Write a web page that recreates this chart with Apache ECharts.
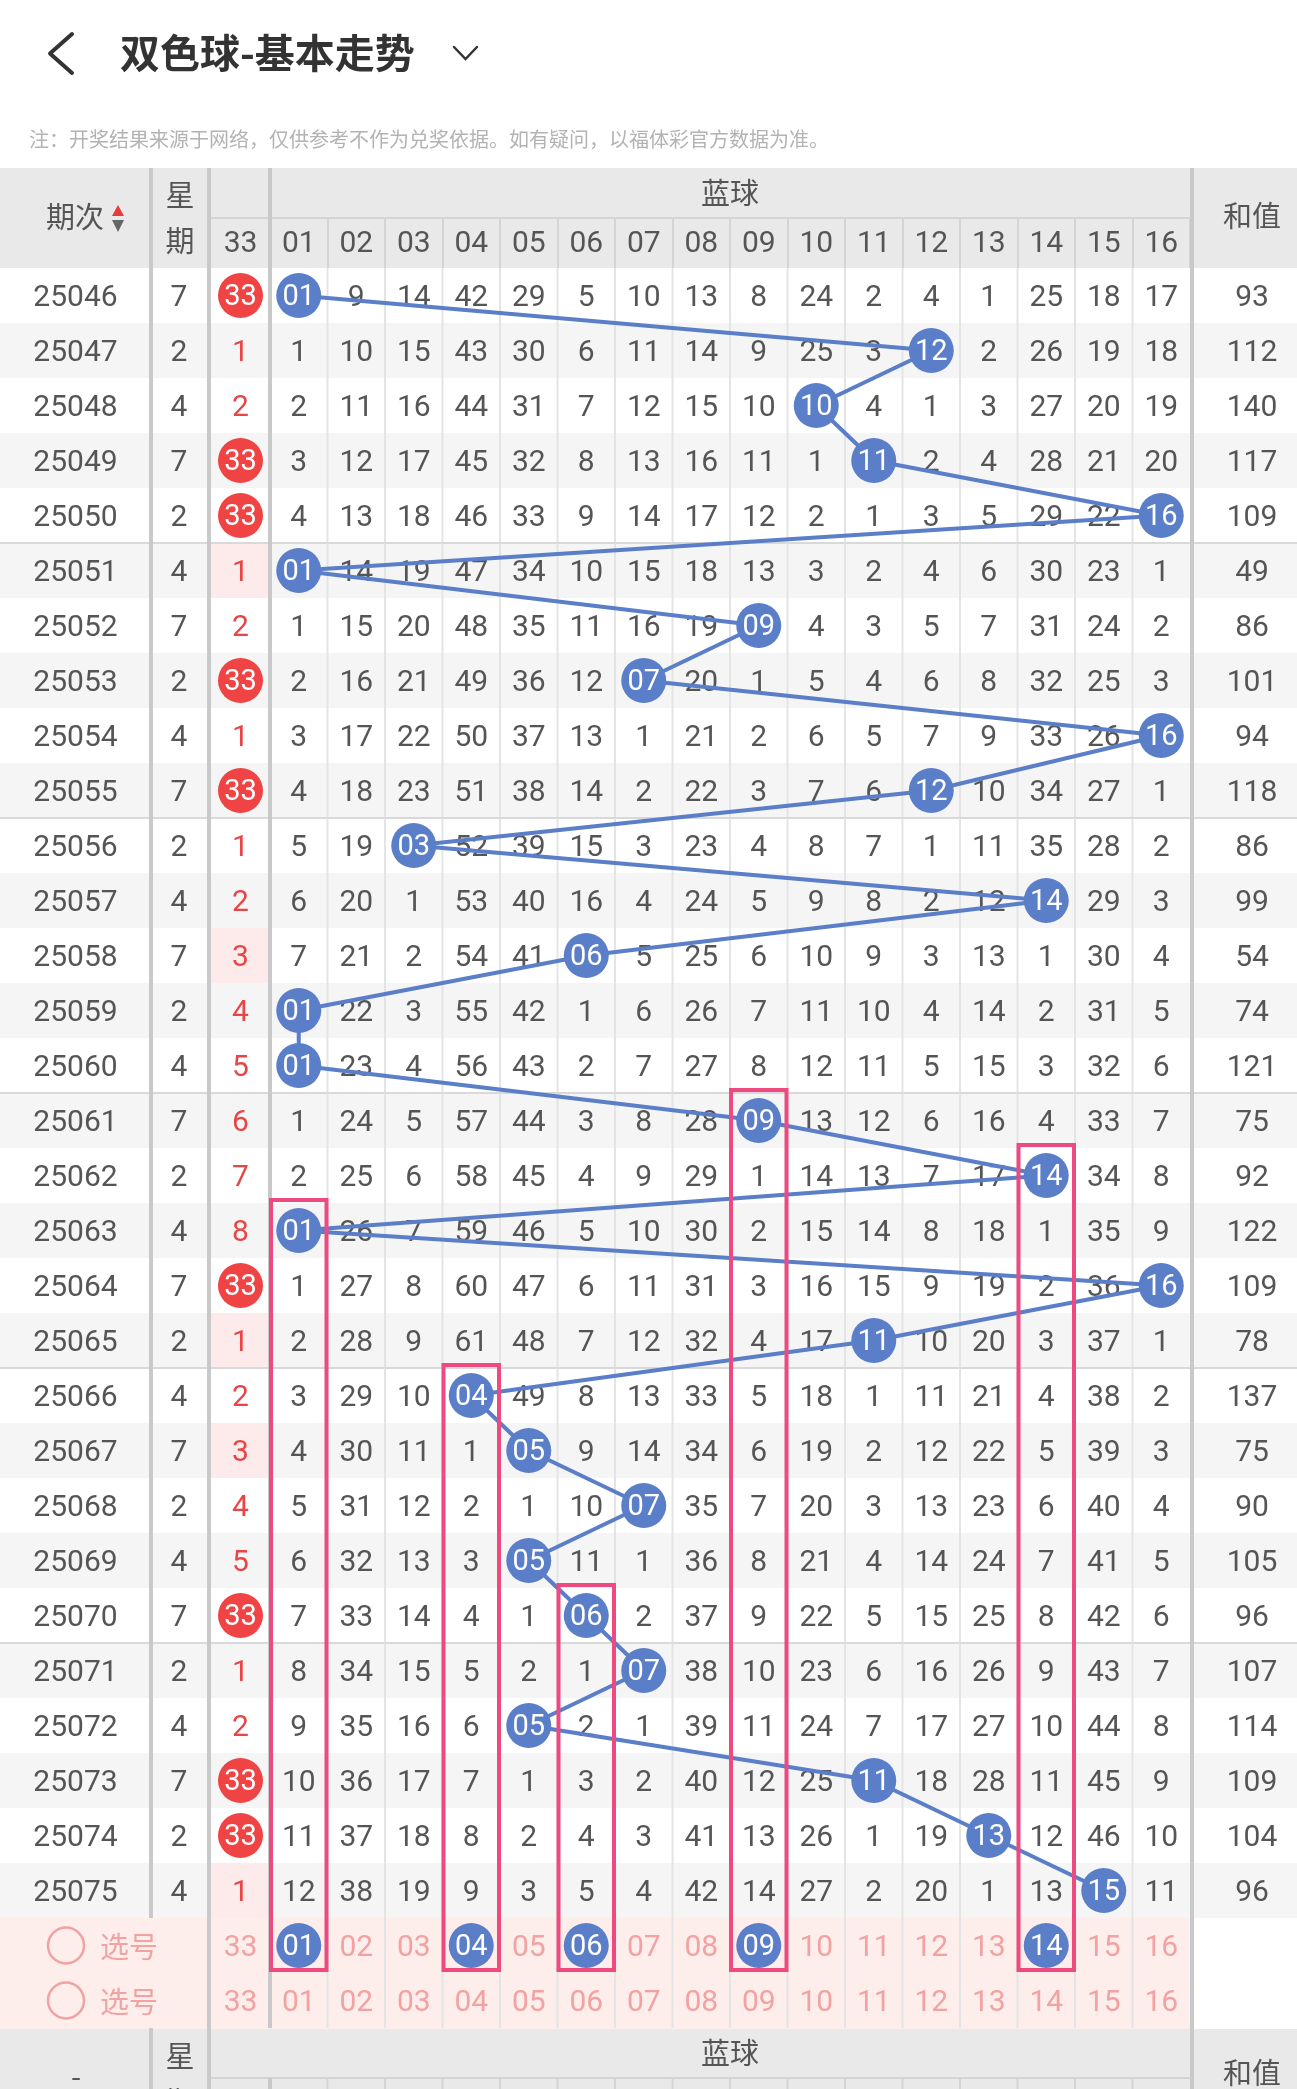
<!DOCTYPE html>
<html>
<head>
<meta charset="utf-8">
<script src="https://cdn.jsdelivr.net/npm/echarts@6/dist/echarts.min.js"></script>
<style>html,body{margin:0;padding:0;background:#fff}#c{width:1297px;height:2089px}</style>
</head>
<body>
<div id="c"></div>
<script>
// ===== DATA =====
const periods = ['25046','25047','25048','25049','25050','25051','25052','25053','25054','25055',
  '25056','25057','25058','25059','25060','25061','25062','25063','25064','25065',
  '25066','25067','25068','25069','25070','25071','25072','25073','25074','25075'];
const weekdays = [7,2,4,7,2,4,7,2,4,7,2,4,7,2,4,7,2,4,7,2,4,7,2,4,7,2,4,7,2,4];
const red33 = [33,1,2,33,33,1,2,33,1,33,1,2,3,4,5,6,7,8,33,1,2,3,4,5,33,1,2,33,33,1];
const red33Pink = ['25051','25058','25065','25067','25075'];
const blueCols = ['01','02','03','04','05','06','07','08','09','10','11','12','13','14','15','16'];
const blueBall = ['01','12','10','11','16','01','09','07','16','12','03','14','06','01','01',
  '09','14','01','16','11','04','05','07','05','06','07','05','11','13','15'];
const blueOmit = [
  [0,9,14,42,29,5,10,13,8,24,2,4,1,25,18,17],
  [1,10,15,43,30,6,11,14,9,25,3,0,2,26,19,18],
  [2,11,16,44,31,7,12,15,10,0,4,1,3,27,20,19],
  [3,12,17,45,32,8,13,16,11,1,0,2,4,28,21,20],
  [4,13,18,46,33,9,14,17,12,2,1,3,5,29,22,0],
  [0,14,19,47,34,10,15,18,13,3,2,4,6,30,23,1],
  [1,15,20,48,35,11,16,19,0,4,3,5,7,31,24,2],
  [2,16,21,49,36,12,0,20,1,5,4,6,8,32,25,3],
  [3,17,22,50,37,13,1,21,2,6,5,7,9,33,26,0],
  [4,18,23,51,38,14,2,22,3,7,6,0,10,34,27,1],
  [5,19,0,52,39,15,3,23,4,8,7,1,11,35,28,2],
  [6,20,1,53,40,16,4,24,5,9,8,2,12,0,29,3],
  [7,21,2,54,41,0,5,25,6,10,9,3,13,1,30,4],
  [0,22,3,55,42,1,6,26,7,11,10,4,14,2,31,5],
  [0,23,4,56,43,2,7,27,8,12,11,5,15,3,32,6],
  [1,24,5,57,44,3,8,28,0,13,12,6,16,4,33,7],
  [2,25,6,58,45,4,9,29,1,14,13,7,17,0,34,8],
  [0,26,7,59,46,5,10,30,2,15,14,8,18,1,35,9],
  [1,27,8,60,47,6,11,31,3,16,15,9,19,2,36,0],
  [2,28,9,61,48,7,12,32,4,17,0,10,20,3,37,1],
  [3,29,10,0,49,8,13,33,5,18,1,11,21,4,38,2],
  [4,30,11,1,0,9,14,34,6,19,2,12,22,5,39,3],
  [5,31,12,2,1,10,0,35,7,20,3,13,23,6,40,4],
  [6,32,13,3,0,11,1,36,8,21,4,14,24,7,41,5],
  [7,33,14,4,1,0,2,37,9,22,5,15,25,8,42,6],
  [8,34,15,5,2,1,0,38,10,23,6,16,26,9,43,7],
  [9,35,16,6,0,2,1,39,11,24,7,17,27,10,44,8],
  [10,36,17,7,1,3,2,40,12,25,0,18,28,11,45,9],
  [11,37,18,8,2,4,3,41,13,26,1,19,0,12,46,10],
  [12,38,19,9,3,5,4,42,14,27,2,20,1,13,0,11]
];
const sums = [93,112,140,117,109,49,86,101,94,118,86,99,54,74,121,75,92,122,109,78,137,75,90,105,96,107,114,109,104,96];
const pickBalls = ['01','04','06','09','14'];
const pickFrom = ['25063','25066','25070','25061','25062'];
const pickRows = ['选号1','选号2'];
const headTitle = '双色球-基本走势';
const noteText = '注：开奖结果来源于网络，仅供参考不作为兑奖依据。如有疑问，以福体彩官方数据为准。';

// ===== STYLE / LAYOUT =====
const rowCats = periods.concat(pickRows);
const NR = rowCats.length;
const TOP = 268, RH = 55;
const gridDefs = [
  {left:0, width:151},
  {left:151, width:56},
  {left:211, width:59},
  {left:270, width:920},
  {left:1192, width:120}
];
const C = {
  text:'#555555', red:'#e84646', pinkText:'#f2a2a2', blue:'#5a7ec8', redBall:'#f04444',
  stripe:'#f5f5f5', pinkRow:'#fdeeeb', pinkCell:'#fdebeb', head:'#e9e9e9', divider:'#c9c9c9',
  colLine:'#e4e4e4', sepLine:'#d9d9d9', rect:'#ee4a80'
};
const NUMFONT = '30px Roboto';
const CJK = '"Noto Sans CJK SC"';

function rowFill(r, gi) {
  if (r >= periods.length) return gi === 4 ? '#ffffff' : C.pinkRow;
  return r % 2 === 0 ? '#ffffff' : C.stripe;
}

function bgSeries(gi, ncols, vlines) {
  const data = [];
  for (let r = 0; r < NR; r++) for (let c = 0; c < ncols; c++) data.push([c, r]);
  return {
    type:'custom', xAxisIndex:gi, yAxisIndex:gi, z:1, silent:true, data,
    renderItem:(params, api) => {
      const c = api.value(0), r = api.value(1);
      const p = api.coord([c, r]); const s = api.size([1, 1]);
      const x = p[0] - s[0] / 2, y = p[1] - s[1] / 2;
      let fill = rowFill(r, gi);
      if (gi === 2 && r < periods.length && red33Pink.indexOf(periods[r]) >= 0) fill = C.pinkCell;
      const ch = [{type:'rect', shape:{x:x, y:y, width:s[0] + 1, height:s[1] + 1}, style:{fill:fill}}];
      if (vlines && c > 0) ch.push({type:'line', shape:{x1:x, y1:y, x2:x, y2:y + s[1]}, style:{stroke:C.colLine, lineWidth:2}});
      if (r % 5 === 0 && r > 0 && r < periods.length) ch.push({type:'line', shape:{x1:x, y1:y, x2:x + s[0] + 1, y2:y}, style:{stroke:C.sepLine, lineWidth:2}});
      return {type:'group', children:ch};
    }
  };
}

function textSeries(gi, items, font) {
  return {
    type:'custom', xAxisIndex:gi, yAxisIndex:gi, z:2, silent:true,
    data: items.map(it => [it.c, it.r]),
    renderItem:(params, api) => {
      const it = items[params.dataIndex];
      const p = api.coord([it.c, it.r]);
      return {type:'text', x:p[0], y:p[1] + 3, style:{text:String(it.t), fill:it.col, font:font || NUMFONT,
        align:'center', verticalAlign:'middle', textAlign:'center', textVerticalAlign:'middle'}};
    }
  };
}

// items
const g0Items = periods.map((p, r) => ({c:0, r:r, t:p, col:C.text}));
const g1Items = weekdays.map((w, r) => ({c:0, r:r, t:w, col:C.text}));
const g2Items = [];
red33.forEach((v, r) => { if (v !== 33) g2Items.push({c:0, r:r, t:v, col:C.red}); });
pickRows.forEach((_, k) => g2Items.push({c:0, r:periods.length + k, t:'33', col:C.pinkText}));
const g3Items = [];
blueOmit.forEach((row, r) => row.forEach((v, c) => { if (blueCols[c] !== blueBall[r]) g3Items.push({c:c, r:r, t:v, col:C.text}); }));
blueCols.forEach((b, c) => {
  if (pickBalls.indexOf(b) < 0) g3Items.push({c:c, r:periods.length, t:b, col:C.pinkText});
  g3Items.push({c:c, r:periods.length + 1, t:b, col:C.pinkText});
});
const g4Items = sums.map((v, r) => ({c:0, r:r, t:v, col:C.text}));

const redBallData = [];
red33.forEach((v, r) => { if (v === 33) redBallData.push({name:'33', value:[0, r]}); });
const blueBallData = blueBall.map((b, r) => ({name:b, value:[blueCols.indexOf(b), r]}));
pickBalls.forEach(b => blueBallData.push({name:b, value:[blueCols.indexOf(b), periods.length]}));
const lineData = blueBall.map((b, r) => [blueCols.indexOf(b), r]);
const rectItems = pickBalls.map((b, k) => ({c:blueCols.indexOf(b), r0:periods.indexOf(pickFrom[k]), r1:periods.length}));

const ballLabel = {show:true, position:'inside', color:'#fff', fontSize:29, fontFamily:'Roboto', offset:[0, 2], formatter:p => p.name};

const series = [
  bgSeries(0, 1, false), bgSeries(1, 1, false), bgSeries(2, 1, false), bgSeries(3, 16, true), bgSeries(4, 1, false),
  textSeries(0, g0Items), textSeries(1, g1Items), textSeries(2, g2Items), textSeries(3, g3Items), textSeries(4, g4Items),
  {
    type:'custom', xAxisIndex:0, yAxisIndex:0, z:2, silent:true,
    data: pickRows.map((_, k) => [0, periods.length + k]),
    renderItem:(params, api) => {
      const p = api.coord([api.value(0), api.value(1)]);
      return {type:'group', children:[
        {type:'circle', shape:{cx:p[0] - 9.5, cy:p[1], r:18}, style:{fill:'none', stroke:C.pinkText, lineWidth:2.5}},
        {type:'text', x:p[0] + 53.5, y:p[1] + 1, style:{text:'选号', fill:C.pinkText, font:'29px ' + CJK,
          align:'center', verticalAlign:'middle', textAlign:'center', textVerticalAlign:'middle'}}
      ]};
    }
  },
  {
    type:'line', xAxisIndex:3, yAxisIndex:3, z:3, data:lineData, symbol:'none', silent:true,
    lineStyle:{color:C.blue, width:4, opacity:1}
  },
  {
    type:'scatter', xAxisIndex:3, yAxisIndex:3, z:4, data:blueBallData, symbol:'circle', symbolSize:45,
    itemStyle:{color:C.blue, opacity:1}, label:ballLabel, silent:true
  },
  {
    type:'scatter', xAxisIndex:2, yAxisIndex:2, z:4, data:redBallData, symbol:'circle', symbolSize:45,
    itemStyle:{color:C.redBall, opacity:1}, label:ballLabel, silent:true
  },
  {
    type:'custom', xAxisIndex:3, yAxisIndex:3, z:30, silent:true,
    data: rectItems.map(it => [it.c, it.r0, it.r1]),
    renderItem:(params, api) => {
      const it = rectItems[params.dataIndex];
      const p0 = api.coord([it.c, it.r0]); const p1 = api.coord([it.c, it.r1]); const s = api.size([1, 1]);
      const y0 = p0[1] - s[1] / 2 - 3, y1 = p1[1] + s[1] / 2 - 3;
      return {type:'rect', shape:{x:p0[0] - s[0] / 2 + 1, y:y0, width:s[0] - 2, height:y1 - y0},
        style:{fill:'none', stroke:C.rect, lineWidth:4}};
    }
  }
];

// ===== chrome (title, headers, dividers) =====
const BLUE_L = 270, BLUE_R = 1190, COLW = (BLUE_R - BLUE_L) / blueCols.length;
function txt(t, x, y, font, fill, align) {
  return {type:'text', x:x, y:y, z:12, style:{text:t, font:font, fill:fill,
    align:align || 'center', verticalAlign:'middle', textAlign:align || 'center', textVerticalAlign:'middle'}};
}
function vbar(x, y0, y1) { return {type:'rect', z:20, shape:{x:x, y:y0, width:4, height:y1 - y0}, style:{fill:C.divider}}; }
const graphics = [
  {type:'polyline', z:12, shape:{points:[[72,34],[50,53.5],[72,73]]}, style:{stroke:'#333', lineWidth:4, fill:'none', lineCap:'round', lineJoin:'round'}},
  txt(headTitle, 120, 53, 'bold 40px ' + CJK, '#333', 'left'),
  {type:'polyline', z:12, shape:{points:[[454,47],[465.5,59],[477,47]]}, style:{stroke:'#333', lineWidth:2.5, fill:'none', lineCap:'round'}},
  txt(noteText, 29, 139, '20px ' + CJK, '#b3b3b3', 'left'),
  {type:'rect', z:0, shape:{x:0, y:168, width:1297, height:100}, style:{fill:C.head}},
  {type:'line', z:5, shape:{x1:211, y1:218, x2:BLUE_R, y2:218}, style:{stroke:'#d4d4d4', lineWidth:2}},
  txt('期次', 75, 217, '29px ' + CJK, '#555'),
  {type:'polygon', z:12, shape:{points:[[112,216],[124,216],[118,205]]}, style:{fill:'#e93b3b'}},
  {type:'polygon', z:12, shape:{points:[[112,220],[124,220],[118,232]]}, style:{fill:'#666'}},
  txt('星', 180, 195, '29px ' + CJK, '#555'),
  txt('期', 180, 241, '29px ' + CJK, '#555'),
  txt('蓝球', (BLUE_L + BLUE_R) / 2, 193, '29px ' + CJK, '#555'),
  txt('和值', 1252, 216, '29px ' + CJK, '#555'),
  // bottom header
  {type:'rect', z:0, shape:{x:0, y:2028, width:1297, height:61}, style:{fill:C.head}},
  {type:'line', z:5, shape:{x1:211, y1:2078, x2:BLUE_R, y2:2078}, style:{stroke:'#d4d4d4', lineWidth:2}},
  txt('-', 76, 2076, '29px ' + CJK, '#555'),
  txt('星', 180, 2056, '29px ' + CJK, '#555'),
  txt('期', 180, 2102, '29px ' + CJK, '#555'),
  txt('蓝球', (BLUE_L + BLUE_R) / 2, 2053, '29px ' + CJK, '#555'),
  txt('和值', 1252, 2073, '29px ' + CJK, '#555'),
  // dividers
  vbar(149, 168, TOP + RH * periods.length), vbar(149, 2028, 2089),
  vbar(207, 168, 2089),
  vbar(268, 168, 2028), vbar(268, 2078, 2089),
  vbar(1190, 168, 2089)
];
for (let k = 1; k < blueCols.length; k++) {
  const x = BLUE_L + k * COLW;
  graphics.push({type:'line', z:5, shape:{x1:x, y1:2079, x2:x, y2:2089}, style:{stroke:'#d4d4d4', lineWidth:2}});
}

const axisLabelTop = {margin:24, verticalAlign:'middle', color:'#555', fontSize:30, fontFamily:'Roboto', interval:0};
const option = {
  animation:false,
  backgroundColor:'#ffffff',
  grid: gridDefs.map(g => ({left:g.left, width:g.width, top:TOP, height:RH * NR, show:false, containLabel:false, outerBoundsMode:'none'})),
  xAxis: [
    {gridIndex:0, type:'category', data:['期次'], show:false},
    {gridIndex:1, type:'category', data:['星期'], show:false},
    {gridIndex:2, type:'category', data:['33'], position:'top', z:10, axisLine:{show:false}, axisTick:{show:false}, splitLine:{show:false}, axisLabel:axisLabelTop},
    {gridIndex:3, type:'category', data:blueCols, position:'top', z:10, axisLine:{show:false},
      axisTick:{show:true, length:50, lineStyle:{color:'#d4d4d4', width:2}}, splitLine:{show:false}, axisLabel:axisLabelTop},
    {gridIndex:4, type:'category', data:['和值'], show:false}
  ],
  yAxis: gridDefs.map((g, i) => ({gridIndex:i, type:'category', data:rowCats, inverse:true, show:false})),
  graphic: {elements: graphics},
  series: series
};
const chart = echarts.init(document.getElementById('c'), null, {renderer:'canvas', width:1297, height:2089});
chart.setOption(option);
</script>
</body>
</html>
